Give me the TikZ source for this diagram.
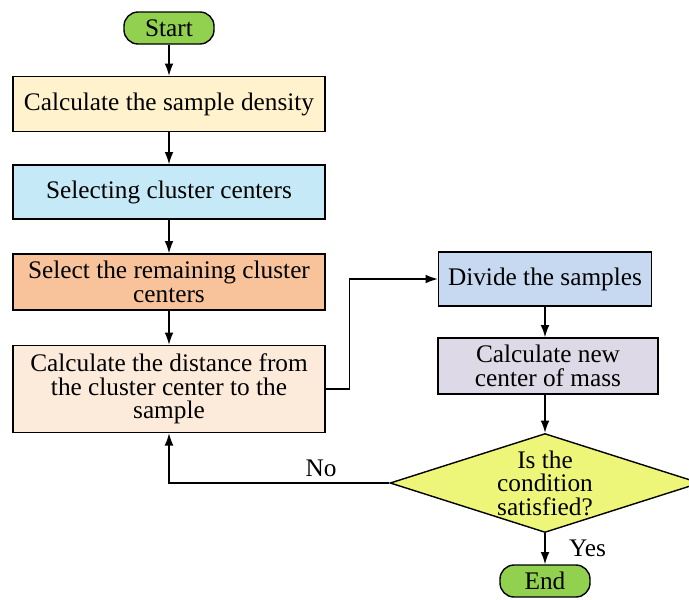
\documentclass[tikz,border=0pt]{standalone}
\usepackage{fontspec}
\setmainfont{Liberation Serif}
\usetikzlibrary{shapes.geometric,arrows.meta}

\definecolor{startgreen}{HTML}{92D050}
\definecolor{densyellow}{HTML}{FFF2CC}
\definecolor{selblue}{HTML}{C5E9F6}
\definecolor{remorange}{HTML}{F8C39A}
\definecolor{distcream}{HTML}{FCEBDA}
\definecolor{divblue}{HTML}{C6D9F1}
\definecolor{masslilac}{HTML}{DDD9E7}
\definecolor{condyellow}{HTML}{EEF67A}

\tikzset{
  flow/.style={draw=black,thick,align=center,font=\fontsize{14.4}{13.4}\selectfont},
  terminal/.style={flow,fill=startgreen,rounded corners=8pt,minimum width=1.8cm,minimum height=0.64cm},
  procbox/.style={flow,minimum width=6.24cm,inner sep=0pt},
  decision/.style={draw=black,thick,fill=condyellow,diamond,minimum width=6.2cm,minimum height=1.98cm,inner sep=0pt},
  link/.style={thick,-{Latex[length=7pt,width=5pt]}},
  tag/.style={font=\fontsize{14.4}{14}\selectfont}
}

\begin{document}
\begin{tikzpicture}[x=0.02cm,y=-0.02cm]
        \useasboundingbox (0,0) rectangle (689,599);

        % 左列
        \node[terminal] (start) at (169,28) {Start};
        \node[procbox,fill=densyellow,minimum height=1.1cm] (dens) at (169,104) {Calculate the sample density};
        \node[procbox,fill=selblue,minimum height=1.08cm] (sel) at (169,192) {Selecting cluster centers};
        \node[procbox,fill=remorange,minimum height=1.12cm] (rem) at (169,282) {Select the remaining cluster\\centers};
        \node[procbox,fill=distcream,minimum height=1.74cm] (dist) at (169,389) {Calculate the distance from\\the cluster center to the\\sample};

        % 右列
        \node[flow,fill=divblue,minimum width=4.26cm,minimum height=1.08cm] (div) at (545,279) {Divide the samples};
        \node[flow,fill=masslilac,minimum width=4.4cm,minimum height=1.12cm] (mass) at (548,366) {Calculate new\\center of mass};
        \node[decision] (cond) at (545,483) {};
        \node[flow,draw=none] (condtext) at (cond) {Is the\\condition\\satisfied?};
        \node[terminal] (end) at (545,581) {End};

        % 连线
        \draw[link] (start) -- (dens);
        \draw[link] (dens) -- (sel);
        \draw[link] (sel) -- (rem);
        \draw[link] (rem) -- (dist);
        \draw[link] (dist.east) -- ++(24,0) |- (div.west);
        \draw[link] (div.south) -- (mass.north -| div.south);
        \draw[link] (mass.south -| cond.north) -- (cond.north);
        \draw[link] (cond.south) -- (end.north)
            node[midway,right=10pt,tag]{Yes};
        \draw[link] (cond.west) -| (dist.south)
            node[pos=0.155,above,tag]{No};
    \end{tikzpicture}
\end{document}
